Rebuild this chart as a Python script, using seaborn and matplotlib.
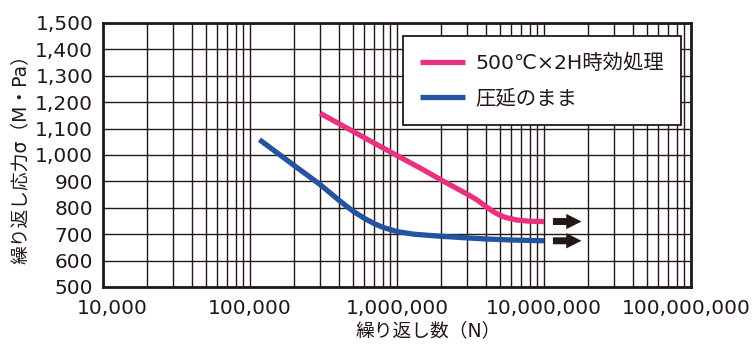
import numpy as np
import pandas as pd
import matplotlib
matplotlib.use("Agg")
import matplotlib.pyplot as plt
import matplotlib.transforms as mtransforms
import seaborn as sns

# ---- data ----
aged_cycles = [3.0e5, 5.0e5, 7.0e5, 1.0e6, 1.5e6, 2.0e6, 2.5e6, 3.0e6, 3.5e6,
               4.0e6, 4.5e6, 5.0e6, 5.5e6, 6.5e6, 8.0e6, 1.0e7]
aged_stress = [1158, 1090, 1045, 998, 945, 905, 876, 852, 830,
               806, 786, 772, 763, 754, 749, 748]
rolled_cycles = [1.16e5, 2.0e5, 3.0e5, 4.0e5, 5.0e5, 6.0e5, 7.0e5, 8.0e5, 1.0e6,
                 1.3e6, 2.0e6, 3.0e6, 4.0e6, 6.0e6, 1.0e7]
rolled_stress = [1058, 960, 888, 830, 788, 760, 740, 726, 710,
                 700, 692, 686, 682, 678, 675]
series_names = ["500℃×2H時効処理", "圧延のまま"]
series_colors = ["#E8327F", "#2553A0"]
x_ticks = [1e4, 1e5, 1e6, 1e7, 1e8]
x_ticklabels = ["10,000", "100,000", "1,000,000", "10,000,000", "100,000,000"]
y_ticks = list(range(500, 1501, 100))
y_ticklabels = [f"{v:,}" for v in y_ticks]
x_label = "繰り返し数（N）"
y_label = "繰り返し応力σ（M・Pa）"

df = pd.concat([
    pd.DataFrame({"cycles": aged_cycles, "stress": aged_stress, "series": series_names[0]}),
    pd.DataFrame({"cycles": rolled_cycles, "stress": rolled_stress, "series": series_names[1]}),
], ignore_index=True)

sns.set_style("white")
plt.rcParams["font.family"] = ["DejaVu Sans", "Noto Sans CJK JP"]

ink = "#231815"
fig = plt.figure(figsize=(7.52, 3.49), dpi=100)
ax = fig.add_axes([103 / 752, 62 / 349, 588 / 752, 264 / 349])

sns.lineplot(data=df, x="cycles", y="stress", hue="series", hue_order=series_names,
             palette=series_colors, linewidth=3.8, ax=ax, sort=False,
             estimator=None, zorder=5)
for ln in ax.get_lines():
    ln.set_solid_capstyle("butt")

ax.set_xscale("log")
ax.set_xlim(1e4, 1e8)
ax.set_ylim(500, 1500)
ax.set_xticks(x_ticks)
ax.set_xticklabels(x_ticklabels)
ax.set_yticks(y_ticks)
ax.set_yticklabels(y_ticklabels)
ax.xaxis.set_minor_locator(matplotlib.ticker.LogLocator(base=10, subs=np.arange(2, 10)))
ax.xaxis.set_minor_formatter(matplotlib.ticker.NullFormatter())
ax.tick_params(axis="both", which="both", length=0, labelsize=14.5, colors=ink)
ax.tick_params(axis="x", pad=8.5)
ax.tick_params(axis="y", pad=7)

# edge tick labels nudged inward as in the reference
xlabels = ax.get_xticklabels()
for lab, dx in [(xlabels[0], 9), (xlabels[-1], -5)]:
    lab.set_transform(lab.get_transform() +
                      mtransforms.ScaledTranslation(dx / 100, 0, fig.dpi_scale_trans))

ax.grid(True, which="major", axis="both", color=ink, linewidth=1.0)
ax.grid(True, which="minor", axis="x", color=ink, linewidth=1.0)
ax.set_axisbelow(True)
for s in ax.spines.values():
    s.set_visible(True)
    s.set_color(ink)
    s.set_linewidth(2.0)
    s.set_zorder(10)

ax.set_xlabel(x_label, fontsize=13.5, color=ink)
ax.set_ylabel(y_label, fontsize=13.5, color=ink)
ax.xaxis.set_label_coords(0.553, -0.165)
ax.yaxis.set_label_coords(-0.141, 0.5)
ax.xaxis.label.set_va("center")
ax.yaxis.label.set_va("center")

# arrows indicating run-out beyond the last point
for cyc, st in [(aged_cycles, aged_stress), (rolled_cycles, rolled_stress)]:
    ax.annotate("", xy=(cyc[-1] * 1.8, st[-1]), xytext=(cyc[-1] * 1.15, st[-1]),
                arrowprops=dict(arrowstyle="simple,head_length=1.1,head_width=1.1,tail_width=0.5",
                                mutation_scale=10, color=ink, lw=0, shrinkA=0, shrinkB=0),
                zorder=6)

leg = ax.legend(loc="upper left", bbox_to_anchor=(0.51, 0.951), fontsize=14.7,
                frameon=True, fancybox=False, edgecolor=ink, facecolor="white",
                framealpha=1, handlelength=2.2, handletextpad=0.5,
                labelspacing=0.8, borderpad=0.85, borderaxespad=0)
leg.get_frame().set_linewidth(1.3)
for t in leg.get_texts():
    t.set_color(ink)
for h in leg.legend_handles:
    h.set_linewidth(3.8)
leg.set_zorder(20)

fig.savefig("out.png", dpi=100)
